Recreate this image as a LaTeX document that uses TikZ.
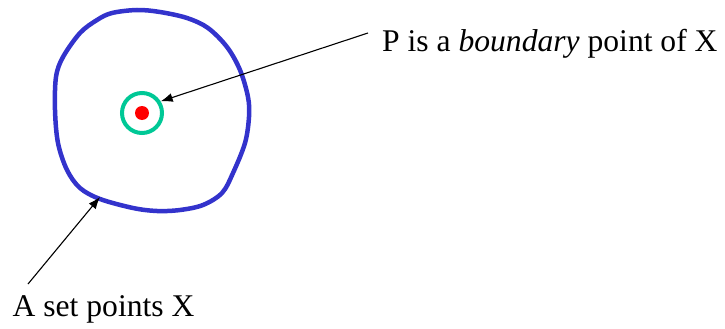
\documentclass[tikz,border=0pt]{standalone}
\usepackage{fontspec}
\setmainfont{Liberation Serif}
\usetikzlibrary{arrows.meta}
\definecolor{setblue}{RGB}{51,51,204}
\definecolor{ringteal}{RGB}{0,200,150}
\definecolor{dotred}{RGB}{255,0,0}
\tikzset{
  setcurve/.style={draw=setblue, line width=4.5pt, line join=round},
  pointer/.style={line width=1.1pt, -{Latex[length=12pt,width=9pt]}},
  lbl/.style={inner sep=0pt, anchor=base west, font=\fontsize{31.6}{38}\selectfont}
}
\begin{document}
\begin{tikzpicture}[x=1pt,y=-1pt]
\useasboundingbox (0,0) rectangle (725,329);
\draw[setcurve] plot[smooth cycle, tension=0.55] coordinates {
(112,13) (137,10) (160,12) (187,18) (208,28) (227,47) (240,70) (248,97)
(249,117) (245,143) (233,173) (222,193) (203,205) (180,210) (157,211)
(133,208) (100,199) (80,188) (67,170) (58,143) (55,110) (56,77) (63,57)
(80,33) (97,20)};
\coordinate (edge) at (100,197);
\node[circle, fill=dotred, inner sep=0pt, minimum size=14pt] (P) at (142,113) {};
\node[circle, draw=ringteal, line width=4pt, inner sep=0pt, minimum size=40pt] (ring) at (142,113) {};
\node[lbl] (lbl1) at (382,52) {P is a \textit{boundary} point of X};
\node[lbl] (lbl2) at (12.5,316.7) {A set points X};
\coordinate (s1) at (368,33);
\coordinate (s2) at (28,284);
\draw[pointer] (s1) -- (ring.32);
\draw[pointer] (s2) -- (edge);
\end{tikzpicture}
\end{document}
